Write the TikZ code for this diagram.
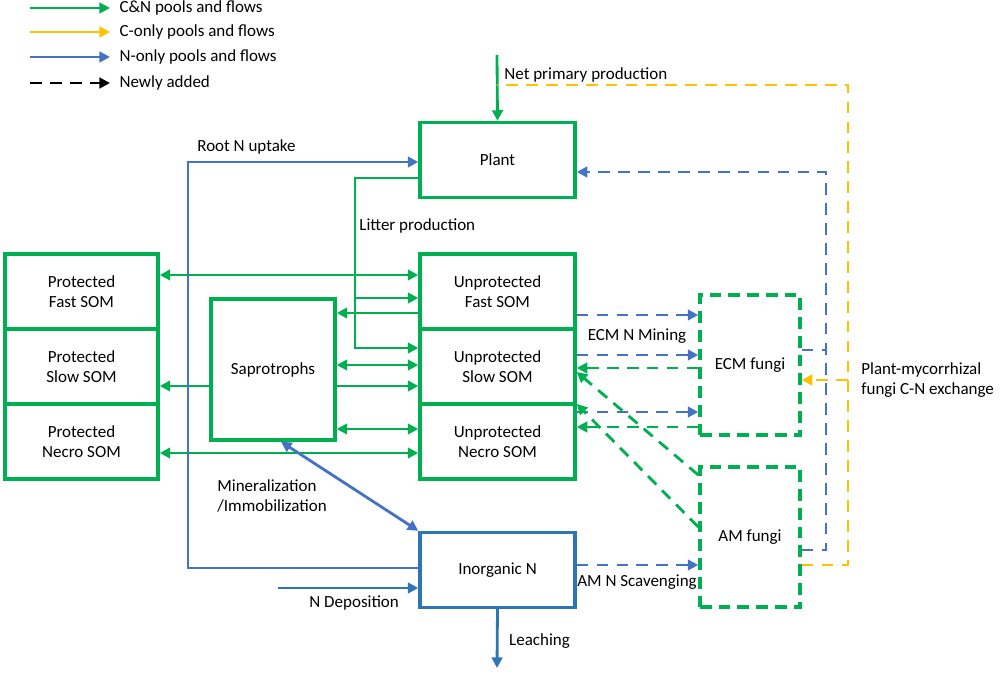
\documentclass[tikz,border=0pt]{standalone}
\usepackage{fontspec}
\setmainfont{Carlito}
\usetikzlibrary{arrows.meta}
\definecolor{cngreen}{RGB}{0,176,80}
\definecolor{nblue}{RGB}{68,114,196}
\definecolor{inblue}{RGB}{46,117,182}
\definecolor{cyellow}{RGB}{255,192,0}
\tikzset{
  box/.style={draw=cngreen, line width=2.9pt, minimum width=4.65cm, minimum height=2.25cm, align=center, inner sep=0pt},
  fungi/.style={box, dash pattern=on 10pt off 6pt, minimum width=3cm, minimum height=4.2cm},
  flow/.style={line width=2.4pt, -{Triangle[length=9pt,width=9pt]}},
  both/.style={flow, {Triangle[length=9pt,width=9pt]}-{Triangle[length=9pt,width=9pt]}},
  new/.style={dash pattern=on 10pt off 7pt},
  lbl/.style={inner sep=1pt}
}
\begin{document}
\begin{tikzpicture}[x=0.03cm, y=-0.03cm, font=\fontsize{14.5}{17.5}\selectfont]
  \useasboundingbox (0,0) rectangle (1000,676);

  % legend
  \draw[flow, cngreen] (30,8) -- (110,8) node[right, black, lbl, xshift=6pt] {C\&N pools and flows};
  \draw[flow, cyellow] (30,32) -- (110,32) node[right, black, lbl, xshift=6pt] {C-only pools and flows};
  \draw[flow, nblue] (30,57) -- (110,57) node[right, black, lbl, xshift=6pt] {N-only pools and flows};
  \draw[flow, black, new] (30,83) -- (110,83) node[right, black, lbl, xshift=6pt] {Newly added};

  % pools
  \node[box] (plant) at (497.5,160) {Plant};
  \node[box] (ufast) at (497.5,291.5) {Unprotected\\Fast SOM};
  \node[box] (uslow) at (497.5,366.5) {Unprotected\\Slow SOM};
  \node[box] (unecro) at (497.5,441.5) {Unprotected\\Necro SOM};
  \node[box, minimum width=4.59cm] (pfast) at (81.5,291.5) {Protected\\Fast SOM};
  \node[box, minimum width=4.59cm] (pslow) at (81.5,366.5) {Protected\\Slow SOM};
  \node[box, minimum width=4.59cm] (pnecro) at (81.5,441.5) {Protected\\Necro SOM};
  \node[box, minimum width=3.72cm, minimum height=4.23cm] (sapro) at (273,369.5) {Saprotrophs};
  \node[box, draw=inblue] (inorg) at (497.5,570) {Inorganic N};
  \node[fungi] (ecm) at (750,365) {ECM fungi};
  \node[fungi] (am) at (750,537) {AM fungi};
  \coordinate (npp) at (497,55);
  \coordinate (dep) at (278,588);
  \coordinate (leach) at (497,668);

  % C&N flows
  \draw[flow, cngreen] (npp) -- (plant.north) node[pos=0.3, right, black, lbl, xshift=4pt] {Net primary production};
  \draw[flow, cngreen] (plant.west |- 0,178) -- (355,178) -- (355,348) -- (uslow.west |- 0,348);
  \draw[flow, cngreen] (355,298) -- (ufast.west |- 0,298);
  \node[right, lbl] at (358,226) {Litter production};
  \draw[both, cngreen] (pfast.east |- 0,275) -- (ufast.west |- 0,275);
  \draw[flow, cngreen] (ufast.west |- 0,313) -- (sapro.east |- 0,313);
  \draw[both, cngreen] (sapro.east |- 0,365) -- (uslow.west |- 0,365);
  \draw[flow, cngreen] (sapro.east |- 0,386) -- (uslow.west |- 0,386);
  \draw[flow, cngreen] (sapro.west |- 0,386) -- (pslow.east |- 0,386);
  \draw[both, cngreen] (sapro.east |- 0,429) -- (unecro.west |- 0,429);
  \draw[both, cngreen] (pnecro.east |- 0,453) -- (unecro.west |- 0,453);

  % N flows
  \draw[flow, nblue] (inorg.west |- 0,568) -- (188,568) -- (188,162) -- (plant.west |- 0,162);
  \node[right, lbl] at (196,147) {Root N uptake};
  \draw[both, nblue] (sapro.south) ++(8,0) -- (inorg.north west);
  \node[right, lbl, align=left] at (216,496) {Mineralization\\/Immobilization};
  \draw[flow, inblue] (dep) -- (inorg.west |- dep);
  \node[right, lbl] at (308,603) {N Deposition};
  \draw[flow, inblue] (inorg.south) -- (leach) node[pos=0.55, right, black, lbl, xshift=8pt] {Leaching};

  % newly added mycorrhizal flows
  \draw[flow, nblue, new] (ufast.east |- 0,315) -- (ecm.west |- 0,315);
  \draw[flow, nblue, new] (uslow.east |- 0,355) -- (ecm.west |- 0,355);
  \draw[flow, nblue, new] (unecro.east |- 0,412) -- (ecm.west |- 0,412);
  \node[lbl] at (637,336) {ECM N Mining};
  \draw[flow, cngreen, new] (ecm.west |- 0,368) -- (uslow.east |- 0,368);
  \draw[flow, cngreen, new] (ecm.west |- 0,427) -- (unecro.east |- 0,427);
  \draw[flow, cngreen, new] (am.west |- 0,475) -- (uslow.east |- 0,372);
  \draw[flow, cngreen, new] (am.west |- 0,527) -- (unecro.east |- 0,404);
  \draw[flow, nblue, new] (inorg.east |- 0,565) -- (am.west |- 0,565);
  \node[lbl] at (637,582) {AM N Scavenging};
  \draw[flow, nblue, new] (ecm.east |- 0,350) -- (826,350) -- (826,172) -- (plant.east |- 0,172);
  \draw[line width=2.4pt, nblue, new] (am.east |- 0,550) -- (826,550) -- (826,350);
  \draw[line width=2.4pt, cyellow, new] (am.east |- 0,565) -- (848,565) -- (848,85) -- (npp |- 0,85);
  \draw[flow, cyellow, new] (848,380) -- (ecm.east |- 0,380);
  \node[right, lbl, align=left] at (860,380) {Plant-mycorrhizal\\fungi C-N exchange};
\end{tikzpicture}
\end{document}
